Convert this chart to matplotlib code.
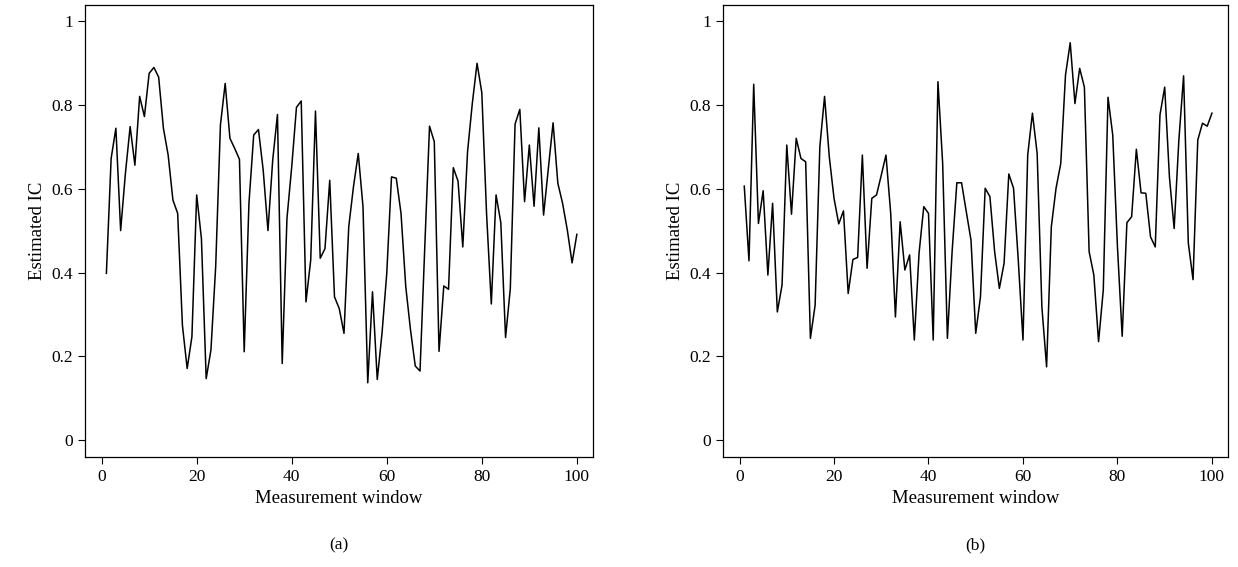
import matplotlib
matplotlib.use("Agg")
import matplotlib.pyplot as plt
import numpy as np

plt.rcParams["font.family"] = ["Liberation Serif", "DejaVu Serif"]

windows = np.arange(1, 101)

ic_a = [0.398, 0.672, 0.744, 0.50, 0.636, 0.748, 0.656, 0.82, 0.772, 0.875,
        0.889, 0.866, 0.744, 0.68, 0.573, 0.541, 0.274, 0.171, 0.247, 0.585,
        0.481, 0.147, 0.215, 0.414, 0.752, 0.851, 0.72, 0.696, 0.67, 0.211,
        0.565, 0.728, 0.741, 0.644, 0.50, 0.668, 0.777, 0.183, 0.529, 0.652,
        0.794, 0.809, 0.33, 0.43, 0.785, 0.434, 0.457, 0.62, 0.342, 0.314,
        0.255, 0.509, 0.605, 0.684, 0.557, 0.137, 0.354, 0.145, 0.255, 0.398,
        0.628, 0.625, 0.541, 0.366, 0.263, 0.177, 0.165, 0.461, 0.749, 0.712,
        0.212, 0.368, 0.36, 0.65, 0.618, 0.461, 0.688, 0.803, 0.899, 0.829,
        0.541, 0.325, 0.585, 0.519, 0.245, 0.362, 0.754, 0.789, 0.569, 0.704,
        0.558, 0.745, 0.537, 0.648, 0.757, 0.613, 0.565, 0.501, 0.423, 0.491]

ic_b = [0.606, 0.428, 0.849, 0.517, 0.595, 0.394, 0.565, 0.306, 0.37, 0.704,
        0.539, 0.72, 0.672, 0.664, 0.243, 0.322, 0.70, 0.82, 0.676, 0.577,
        0.516, 0.547, 0.35, 0.431, 0.436, 0.68, 0.41, 0.577, 0.585, 0.632,
        0.68, 0.541, 0.294, 0.521, 0.406, 0.442, 0.239, 0.446, 0.557, 0.541,
        0.239, 0.855, 0.66, 0.243, 0.45, 0.614, 0.614, 0.545, 0.477, 0.255,
        0.342, 0.601, 0.581, 0.45, 0.362, 0.422, 0.635, 0.601, 0.43, 0.239,
        0.68, 0.78, 0.684, 0.318, 0.175, 0.509, 0.601, 0.66, 0.871, 0.948,
        0.803, 0.887, 0.842, 0.45, 0.394, 0.235, 0.358, 0.818, 0.728, 0.461,
        0.248, 0.519, 0.533, 0.694, 0.59, 0.589, 0.485, 0.461, 0.776, 0.842,
        0.628, 0.505, 0.716, 0.869, 0.47, 0.383, 0.716, 0.756, 0.749, 0.78]

W, H = 1238, 567
fig = plt.figure(figsize=(W / 100, H / 100), dpi=100)
panels = [(85, 593, ic_a, "(a)"), (723, 1228, ic_b, "(b)")]
for left, right, vals, tag in panels:
    ax = fig.add_axes([left / W, 1 - 457 / H, (right - left) / W, (457 - 5) / H])
    ax.plot(windows, vals, color="black", linewidth=1.1)
    ax.set_xlim(-3.5, 103.4)
    ax.set_ylim(-0.04, 1.038)
    ax.set_xticks([0, 20, 40, 60, 80, 100])
    ax.set_yticks([0, 0.2, 0.4, 0.6, 0.8, 1])
    ax.set_yticklabels(["0", "0.2", "0.4", "0.6", "0.8", "1"])
    ax.tick_params(direction="out", length=5, labelsize=12.5)
    ax.set_xlabel("Measurement window", fontsize=13.5)
    ax.set_ylabel("Estimated IC", fontsize=13.5)
    for s in ax.spines.values():
        s.set_linewidth(0.9)
    fig.text((left + right) / 2 / W, 1 - 545 / H, tag, ha="center", va="center", fontsize=12.5)

fig.savefig("out.png", dpi=100)
